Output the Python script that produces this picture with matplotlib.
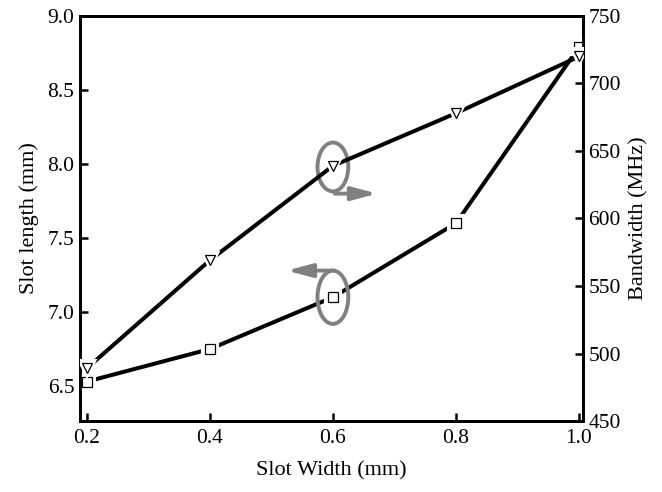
import numpy as np
import matplotlib.pyplot as plt
from matplotlib.patches import Ellipse

plt.rcParams['font.family'] = ['Liberation Serif', 'DejaVu Serif']

slot_width = [0.2, 0.4, 0.6, 0.8, 1.0]
slot_length = [6.53, 6.75, 7.10, 7.60, 8.79]
bandwidth = [489, 569, 639, 678, 720]

fig = plt.figure(figsize=(6.62, 4.92), dpi=100)
ax = fig.add_axes([0.1208, 0.1443, 0.7599, 0.8232])
ax2 = ax.twinx()

def draw(a, x, y, marker):
    a.plot(x, y, color='black', lw=2.9, zorder=2)
    a.plot(x, y, ls='none', marker=marker, ms=9.5, mfc='white', mec='white', mew=3, zorder=3)
    a.plot(x, y, ls='none', marker=marker, ms=7.5, mfc='white', mec='black', mew=0.9, zorder=4)

draw(ax, slot_width, slot_length, 's')
draw(ax2, slot_width, bandwidth, 'v')

ax.set_xlim(0.189, 1.0065)
ax.set_ylim(6.264, 9.0)
ax2.set_ylim(450, 750)
ax.set_xticks([0.2, 0.4, 0.6, 0.8, 1.0])
ax.set_yticks([6.5, 7.0, 7.5, 8.0, 8.5, 9.0])
ax2.set_yticks([450, 500, 550, 600, 650, 700, 750])
ax.xaxis.set_major_formatter(plt.FormatStrFormatter('%.1f'))
ax.yaxis.set_major_formatter(plt.FormatStrFormatter('%.1f'))

for a in (ax, ax2):
    for s in a.spines.values():
        s.set_linewidth(2)
    a.tick_params(direction='in', length=6, width=1.8, labelsize=15.5, pad=4)
ax.tick_params(axis='x', pad=6)

ax.set_xlabel('Slot Width (mm)', fontsize=16, labelpad=9)
ax.set_ylabel('Slot length (mm)', fontsize=16, labelpad=6)
ax2.set_ylabel('Bandwidth (MHz)', fontsize=16, labelpad=6)

gray = '#808080'
ax.add_patch(Ellipse((0.6, 7.98), 0.05, 0.33, fill=False, ec=gray, lw=2.8, zorder=5))
ax.add_patch(Ellipse((0.6, 7.10), 0.05, 0.36, fill=False, ec=gray, lw=2.8, zorder=5))
style = '-|>,head_length=1.5,head_width=0.4'
ax.annotate('', xy=(0.672, 7.80), xytext=(0.603, 7.80),
            arrowprops=dict(arrowstyle=style, color=gray, lw=2.8, mutation_scale=10,
                            shrinkA=0, shrinkB=0))
ax.annotate('', xy=(0.525, 7.28), xytext=(0.602, 7.28),
            arrowprops=dict(arrowstyle=style, color=gray, lw=2.8, mutation_scale=10,
                            shrinkA=0, shrinkB=0))

fig.savefig('out.png', dpi=100)
